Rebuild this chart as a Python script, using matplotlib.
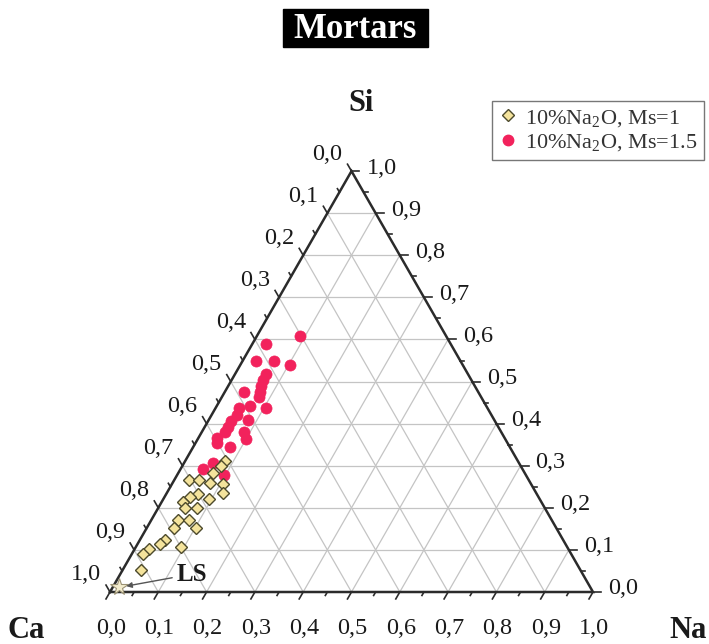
import numpy as np
import matplotlib
matplotlib.use("Agg")
import matplotlib.pyplot as plt
from matplotlib.lines import Line2D
from matplotlib.patches import Rectangle

plt.rcParams['font.family'] = ['Liberation Serif', 'DejaVu Serif']
plt.rcParams['mathtext.fontset'] = 'custom'
plt.rcParams['mathtext.rm'] = 'Liberation Serif'
plt.rcParams['mathtext.default'] = 'regular'

# ---------------- data (fractions: Si, Na; Ca = 1 - Si - Na) ----------------
ms1_si = [0.312, 0.299, 0.283, 0.266, 0.267, 0.258, 0.257, 0.236, 0.232, 0.226,
          0.220, 0.214, 0.199, 0.199, 0.170, 0.171, 0.153, 0.151, 0.124, 0.114,
          0.106, 0.101, 0.091, 0.052]
ms1_na = [0.083, 0.080, 0.072, 0.031, 0.051, 0.078, 0.105, 0.116, 0.066, 0.052,
          0.094, 0.045, 0.081, 0.055, 0.056, 0.079, 0.102, 0.056, 0.051, 0.047,
          0.093, 0.030, 0.023, 0.038]

ms15_si = [0.608, 0.589, 0.550, 0.550, 0.540, 0.518, 0.504, 0.489, 0.476, 0.464,
           0.474, 0.442, 0.437, 0.436, 0.420, 0.407, 0.409, 0.393, 0.381, 0.363,
           0.379, 0.367, 0.353, 0.345, 0.307, 0.292, 0.278]
ms15_na = [0.089, 0.029, 0.027, 0.064, 0.103, 0.063, 0.065, 0.069, 0.072, 0.077,
           0.040, 0.069, 0.105, 0.050, 0.052, 0.047, 0.082, 0.048, 0.087, 0.100,
           0.048, 0.037, 0.045, 0.076, 0.060, 0.047, 0.096]

ls_si = [0.011]
ls_na = [0.014]

tick_vals = [i / 10 for i in range(11)]
tick_labels = [f"{v:.1f}".replace('.', ',') for v in tick_vals]
series_labels = [r'10%Na$_2$O, Ms=1', r'10%Na$_2$O, Ms=1.5']
corner_labels = ['Si', 'Ca', 'Na']
title = 'Mortars'

# ---------------- geometry ----------------
H = np.sqrt(3) / 2
PX_X = 483.0   # pixels per data unit (x)
PX_Y = 486.0   # pixels per data unit (y)


def tern(si, na):
    si = np.asarray(si, float)
    na = np.asarray(na, float)
    return na + 0.5 * si, si * H


def px(dx, dy):
    # pixel offset (dy positive = up) -> data offset
    return dx / PX_X, dy / PX_Y


fig = plt.figure(figsize=(7.09, 6.44), dpi=100)
ax = fig.add_axes([0, 0, 1, 1])
ax.set_xlim(-110 / PX_X, (709 - 110) / PX_X)
ax.set_ylim((592 - 644) / PX_Y, 592 / PX_Y)
ax.axis('off')

grid_c = '#c4c4c4'
edge_c = '#2b2b2b'
txt_c = '#1a1a1a'

# grid
for k in range(1, 10):
    f = k / 10
    for (s0, n0), (s1, n1) in [((f, 0), (f, 1 - f)),
                               ((0, f), (1 - f, f)),
                               ((1 - f, 0), (0, 1 - f))]:
        x, y = tern([s0, s1], [n0, n1])
        ax.plot(x, y, color=grid_c, lw=0.9, zorder=1)

# triangle
x, y = tern([0, 0, 1, 0], [0, 1, 0, 0])
ax.plot(x, y, color=edge_c, lw=1.8, zorder=3, solid_joinstyle='miter')

# ticks
L = 8.0
dirs = {
    'bottom': (-0.5 * L, -H * L),
    'left': (-0.5 * L, H * L),
    'right': (L, 0.0),
}
for i in range(21):
    f = i / 20
    major = i % 2 == 0
    scale = 1.0 if major else 0.5
    bx, by = tern(0, f)
    ddx, ddy = px(dirs['bottom'][0] * scale, dirs['bottom'][1] * scale)
    ax.plot([bx, bx + ddx], [by, by + ddy], color=edge_c, lw=1.2, zorder=3)
    lx, ly = tern(1 - f, 0)
    ddx, ddy = px(dirs['left'][0] * scale, dirs['left'][1] * scale)
    ax.plot([lx, lx + ddx], [ly, ly + ddy], color=edge_c, lw=1.2, zorder=3)
    rx, ry = tern(f, 1 - f)
    ddx, ddy = px(dirs['right'][0] * scale, dirs['right'][1] * scale)
    ax.plot([rx, rx + ddx], [ry, ry + ddy], color=edge_c, lw=1.2, zorder=3)

fs_tick = 17.5
for v, lab in zip(tick_vals, tick_labels):
    bx, by = tern(0, v)
    ox, oy = px(1, -37)
    ax.text(bx + ox, by + oy, lab, ha='center', va='center', fontsize=fs_tick, color=txt_c)
    lx, ly = tern(1 - v, 0)
    ox, oy = px(-9, 17)
    ax.text(lx + ox, ly + oy, lab, ha='right', va='center', fontsize=fs_tick, color=txt_c)
    rx, ry = tern(v, 1 - v)
    ox, oy = px(15, 3)
    ax.text(rx + ox, ry + oy, lab, ha='left', va='center', fontsize=fs_tick, color=txt_c)

# corner labels
fs_corner = 22
sx, sy = tern(1, 0)
ox, oy = px(10, 68)
ax.text(sx + ox, sy + oy, corner_labels[0], ha='center', va='center', fontsize=fs_corner,
        fontweight='bold', color=txt_c)
cx, cy = tern(0, 0)
ox, oy = px(-84, -39)
ax.text(cx + ox, cy + oy, corner_labels[1], ha='center', va='center', fontsize=fs_corner,
        fontweight='bold', color=txt_c)
nx, ny = tern(0, 1)
ox, oy = px(95, -39)
ax.text(nx + ox, ny + oy, corner_labels[2], ha='center', va='center', fontsize=fs_corner,
        fontweight='bold', color=txt_c)

# data
red = '#f2225c'
yel_fc = '#f4e39c'
yel_ec = '#4d4a2c'
x, y = tern(ms15_si, ms15_na)
ax.plot(x, y, 'o', ms=8, mfc=red, mec=red, mew=0.5, ls='none', zorder=4)
x, y = tern(ms1_si, ms1_na)
ax.plot(x, y, 'D', ms=6.5, mfc=yel_fc, mec=yel_ec, mew=1.0, ls='none', zorder=5)

# LS
lsx, lsy = tern(ls_si, ls_na)
ax.plot(lsx, lsy, '*', ms=13, mfc='#f3eccd', mec='#9b9274', mew=0.8, ls='none', zorder=5)
ax.annotate('LS', xy=(lsx[0], lsy[0]), xytext=(52, 9.5), textcoords='offset points',
            ha='center', va='center', fontsize=18, fontweight='bold', color=txt_c,
            arrowprops=dict(arrowstyle='-|>', color='#555555', lw=1.0,
                            shrinkA=1, shrinkB=5, mutation_scale=8),
            zorder=6)

# legend
handles = [
    Line2D([], [], marker='D', ms=6, mfc=yel_fc, mec=yel_ec, mew=1.0, ls='none'),
    Line2D([], [], marker='o', ms=7.5, mfc=red, mec=red, ls='none'),
]
leg = ax.legend(handles, series_labels, loc='upper left',
                bbox_to_anchor=(492 / 709, 1 - 101 / 644), bbox_transform=fig.transFigure,
                borderaxespad=0, fontsize=16, frameon=True, fancybox=False,
                handlelength=0.8, handletextpad=0.4, borderpad=0.3, labelspacing=0.15)
leg.get_frame().set_edgecolor('#555555')
leg.get_frame().set_linewidth(1.0)
for t in leg.get_texts():
    t.set_color('#333333')

# title
fig.patches.append(Rectangle((283 / 709, 1 - 47 / 644), 145 / 709, 38 / 644,
                             transform=fig.transFigure, facecolor='black',
                             edgecolor='black', zorder=0))
fig.text(355.5 / 709, 1 - 29 / 644, title, ha='center', va='center', fontsize=25,
         fontweight='bold', color='white', zorder=2)

fig.savefig('out.png', dpi=100)
